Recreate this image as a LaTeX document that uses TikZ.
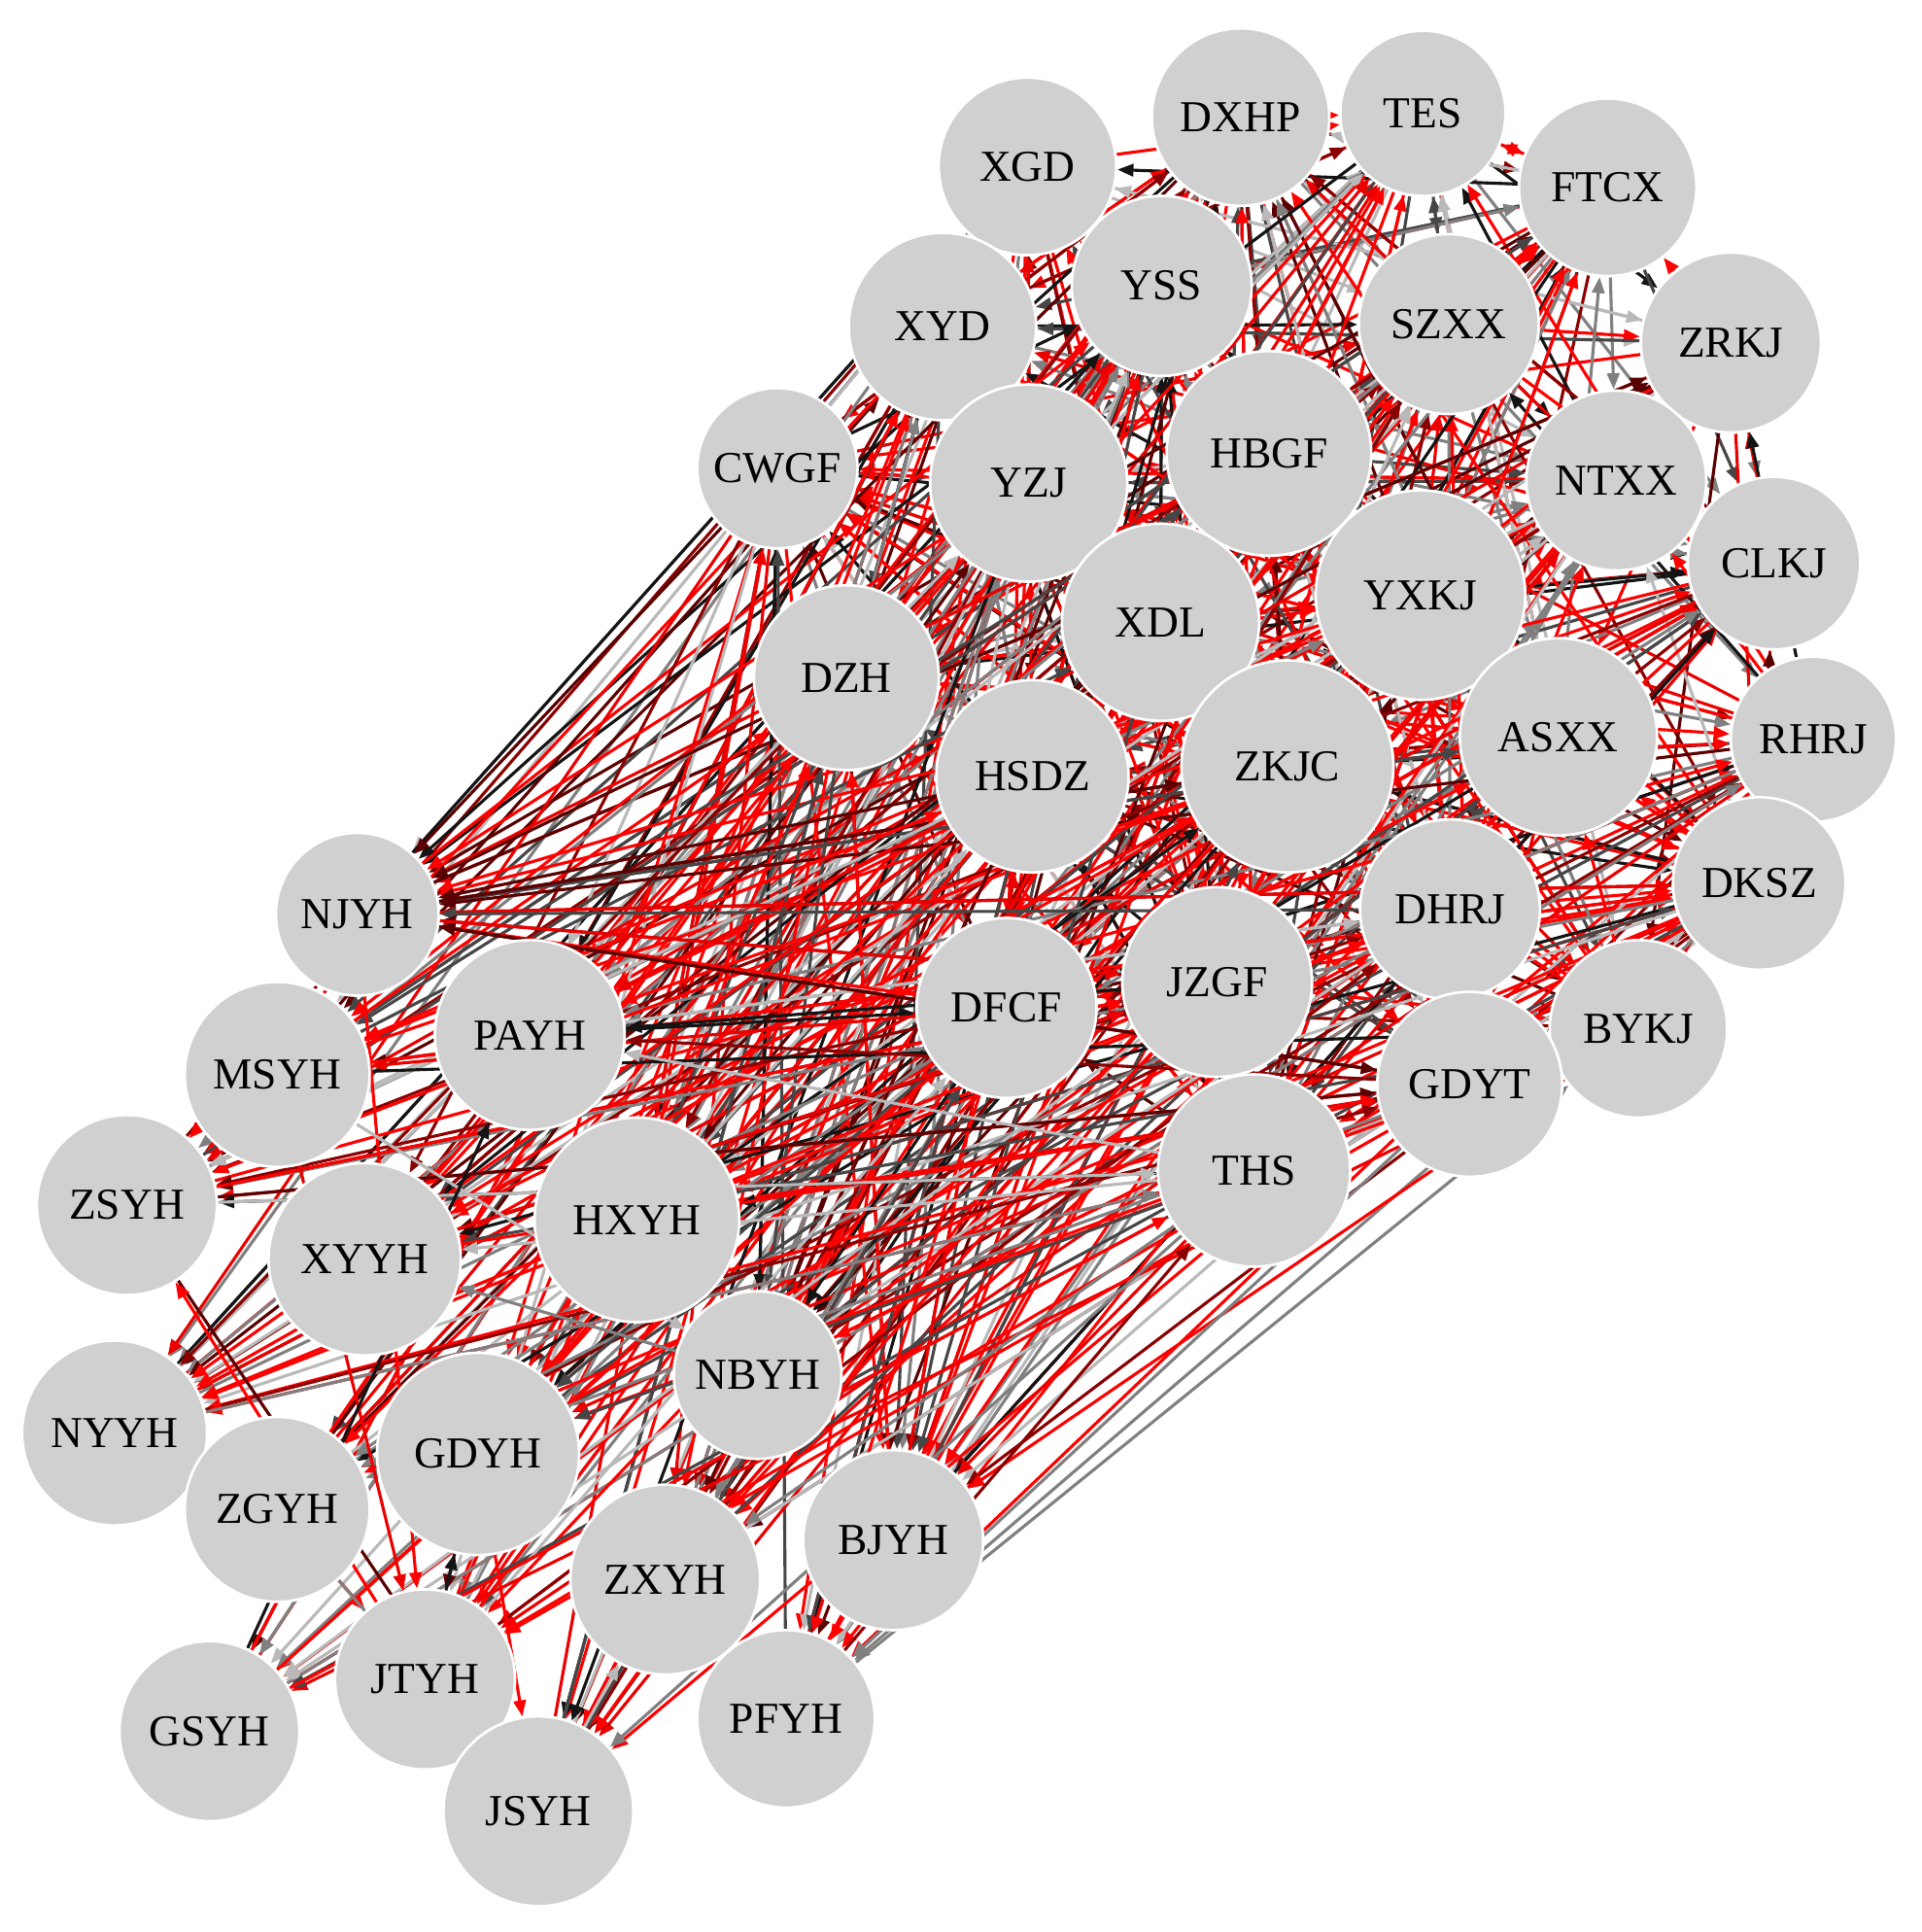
\documentclass[tikz,border=0pt]{standalone}
\usepackage{fontspec}
\setmainfont{Liberation Serif}
\usetikzlibrary{arrows.meta}
\pgfdeclarelayer{bg}
\pgfsetlayers{bg,main}
\definecolor{nodefill}{RGB}{208,208,208}
\definecolor{ec1}{RGB}{255,0,0}
\definecolor{ec2}{RGB}{255,0,0}
\definecolor{ec3}{RGB}{255,0,0}
\definecolor{ec4}{RGB}{235,0,0}
\definecolor{ec5}{RGB}{139,0,0}
\definecolor{ec6}{RGB}{20,20,20}
\definecolor{ec7}{RGB}{70,70,70}
\definecolor{ec8}{RGB}{128,128,128}
\definecolor{ec9}{RGB}{185,185,185}
\definecolor{ec10}{RGB}{90,0,0}
\tikzset{
  vn/.style={circle, fill=nodefill, draw=white, line width=0.6pt, inner sep=0pt,
    font=\fontsize{10.2}{12}\selectfont},
  ed/.style={-{Triangle[length=0.13cm,width=0.10cm]}, line width=0.7pt}
}
\begin{document}
\begin{tikzpicture}[x=0.01cm,y=-0.01cm]
\useasboundingbox (0,0) rectangle (1560,1568);
\node[vn, minimum size=1.44cm] (XGD) at (834,135) {XGD};
\node[vn, minimum size=1.44cm] (DXHP) at (1007,95) {DXHP};
\node[vn, minimum size=1.34cm] (TES) at (1155,92) {TES};
\node[vn, minimum size=1.44cm] (FTCX) at (1305,152) {FTCX};
\node[vn, minimum size=1.46cm] (YSS) at (943,232) {YSS};
\node[vn, minimum size=1.52cm] (XYD) at (765,265) {XYD};
\node[vn, minimum size=1.46cm] (SZXX) at (1176,263) {SZXX};
\node[vn, minimum size=1.46cm] (ZRKJ) at (1405,278) {ZRKJ};
\node[vn, minimum size=1.30cm] (CWGF) at (631,380) {CWGF};
\node[vn, minimum size=1.60cm] (YZJ) at (835,392) {YZJ};
\node[vn, minimum size=1.66cm] (HBGF) at (1030,368) {HBGF};
\node[vn, minimum size=1.46cm] (NTXX) at (1312,390) {NTXX};
\node[vn, minimum size=1.40cm] (CLKJ) at (1440,457) {CLKJ};
\node[vn, minimum size=1.70cm] (YXKJ) at (1153,483) {YXKJ};
\node[vn, minimum size=1.60cm] (XDL) at (942,505) {XDL};
\node[vn, minimum size=1.50cm] (DZH) at (687,550) {DZH};
\node[vn, minimum size=1.60cm] (ASXX) at (1265,598) {ASXX};
\node[vn, minimum size=1.34cm] (RHRJ) at (1472,600) {RHRJ};
\node[vn, minimum size=1.72cm] (ZKJC) at (1045,622) {ZKJC};
\node[vn, minimum size=1.56cm] (HSDZ) at (838,630) {HSDZ};
\node[vn, minimum size=1.40cm] (DKSZ) at (1428,717) {DKSZ};
\node[vn, minimum size=1.32cm] (NJYH) at (290,742) {NJYH};
\node[vn, minimum size=1.46cm] (DHRJ) at (1177,738) {DHRJ};
\node[vn, minimum size=1.54cm] (PAYH) at (430,840) {PAYH};
\node[vn, minimum size=1.46cm] (DFCF) at (817,818) {DFCF};
\node[vn, minimum size=1.54cm] (JZGF) at (988,797) {JZGF};
\node[vn, minimum size=1.44cm] (BYKJ) at (1330,835) {BYKJ};
\node[vn, minimum size=1.50cm] (MSYH) at (225,872) {MSYH};
\node[vn, minimum size=1.50cm] (GDYT) at (1193,880) {GDYT};
\node[vn, minimum size=1.56cm] (THS) at (1018,950) {THS};
\node[vn, minimum size=1.46cm] (ZSYH) at (103,978) {ZSYH};
\node[vn, minimum size=1.56cm] (XYYH) at (296,1022) {XYYH};
\node[vn, minimum size=1.66cm] (HXYH) at (517,990) {HXYH};
\node[vn, minimum size=1.36cm] (NBYH) at (615,1116) {NBYH};
\node[vn, minimum size=1.50cm] (NYYH) at (93,1163) {NYYH};
\node[vn, minimum size=1.64cm] (GDYH) at (388,1180) {GDYH};
\node[vn, minimum size=1.50cm] (ZGYH) at (225,1225) {ZGYH};
\node[vn, minimum size=1.46cm] (BJYH) at (725,1250) {BJYH};
\node[vn, minimum size=1.54cm] (ZXYH) at (540,1282) {ZXYH};
\node[vn, minimum size=1.46cm] (JTYH) at (345,1363) {JTYH};
\node[vn, minimum size=1.46cm] (GSYH) at (170,1405) {GSYH};
\node[vn, minimum size=1.44cm] (PFYH) at (638,1395) {PFYH};
\node[vn, minimum size=1.54cm] (JSYH) at (437,1470) {JSYH};
\def\comps{XGD,DXHP,TES,FTCX,YSS,XYD,SZXX,ZRKJ,CWGF,YZJ,HBGF,NTXX,CLKJ,YXKJ,XDL,DZH,ASXX,RHRJ,ZKJC,HSDZ,DKSZ,DHRJ,DFCF,JZGF,BYKJ,GDYT,THS}
\def\banks{NJYH,PAYH,MSYH,ZSYH,XYYH,HXYH,NBYH,NYYH,GDYH,ZGYH,BJYH,ZXYH,JTYH,GSYH,PFYH,JSYH}
\pgfmathsetseed{4242}
\begin{pgfonlayer}{bg}
% company to company
\foreach \a in \comps {
  \foreach \b in \comps {
    \ifx\a\b\else
      \pgfmathrandominteger{\r}{1}{100}
      \ifnum\r<48
        \pgfmathrandominteger{\ci}{1}{10}
        \draw[ed, draw=ec\ci, fill=ec\ci] (\a) -- (\b);
      \fi
    \fi
  }
}
% company to bank
\foreach \a in \comps {
  \foreach \b in \banks {
    \pgfmathrandominteger{\r}{1}{100}
    \ifnum\r<52
      \pgfmathrandominteger{\ci}{1}{10}
      \draw[ed, draw=ec\ci, fill=ec\ci] (\a) -- (\b);
    \fi
    \pgfmathrandominteger{\r}{1}{100}
    \ifnum\r<26
      \pgfmathrandominteger{\ci}{1}{10}
      \draw[ed, draw=ec\ci, fill=ec\ci] (\b) -- (\a);
    \fi
  }
}
% bank to bank
\foreach \a in \banks {
  \foreach \b in \banks {
    \ifx\a\b\else
      \pgfmathrandominteger{\r}{1}{100}
      \ifnum\r<5
        \pgfmathrandominteger{\ci}{1}{10}
        \draw[ed, draw=ec\ci, fill=ec\ci] (\a) -- (\b);
      \fi
    \fi
  }
}
\end{pgfonlayer}
\end{tikzpicture}
\end{document}
